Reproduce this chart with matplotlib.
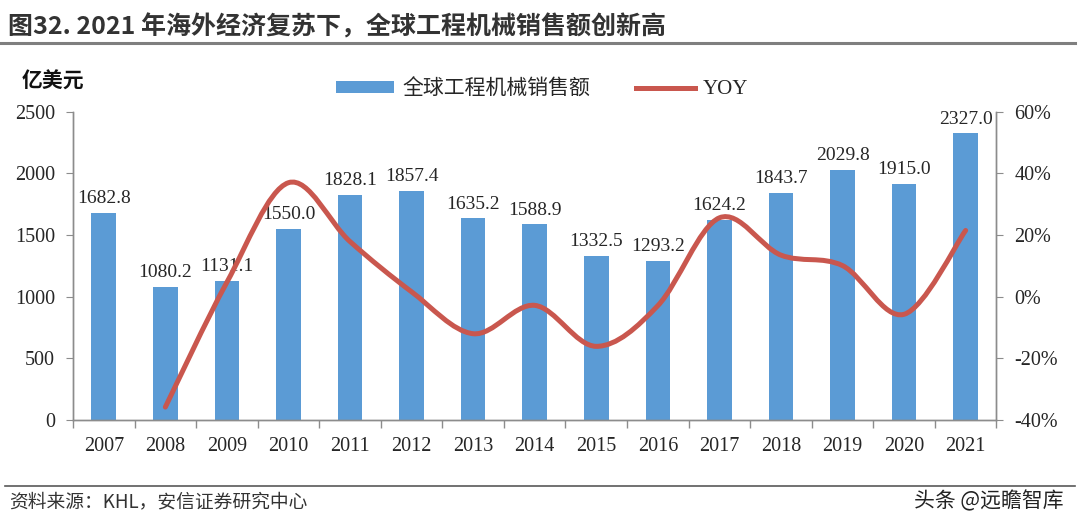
import numpy as np
import matplotlib
matplotlib.use('Agg')
import matplotlib.pyplot as plt
from matplotlib.path import Path
from matplotlib.patches import PathPatch, Patch
from matplotlib.lines import Line2D
from matplotlib.ticker import FixedLocator

plt.rcParams['font.family'] = ['Liberation Serif', 'Noto Sans CJK SC']

# 数据
years = ['2007', '2008', '2009', '2010', '2011', '2012', '2013', '2014',
         '2015', '2016', '2017', '2018', '2019', '2020', '2021']
sales = [1682.8, 1080.2, 1131.1, 1550.0, 1828.1, 1857.4, 1635.2, 1588.9,
         1332.5, 1293.2, 1624.2, 1843.7, 2029.8, 1915.0, 2327.0]
yoy_years = years[1:]
yoy = [-35.8, 4.7, 37.0, 17.9, 1.6, -12.0, -2.8, -16.1, -2.9, 25.6, 13.5, 10.1, -5.7, 21.5]
pct_ticks = [-40, -20, 0, 20, 40, 60]
pct_labels = ['-40%', '-20%', '0%', '20%', '40%', '60%']

bar_color = '#5B9BD5'
line_color = '#C9574E'
axis_color = '#8C8C8C'
text_color = '#262626'

fig = plt.figure(figsize=(10.8, 5.25), dpi=100)
ax = fig.add_axes([0.0676, 0.2, 0.855, 0.587])
ax2 = ax.twinx()

x = np.arange(len(years))
ax.bar(x, sales, width=0.4, color=bar_color, zorder=2)
for xi, v in zip(x, sales):
    ax.annotate(f'{v:.1f}', (xi, v), xytext=(0, 4), textcoords='offset points',
                ha='center', va='bottom', fontsize=14, color=text_color, zorder=1)

ax.set_xlim(-0.5, len(years) - 0.5)
ax.set_ylim(0, 2500)
ax.set_yticks(np.arange(0, 2501, 500))
ax.set_xticks(x)
ax.set_xticklabels(years)
ax.xaxis.set_minor_locator(FixedLocator(np.arange(-0.5, len(years), 1)))
ax.tick_params(axis='x', which='major', length=0, pad=12, labelsize=14.5, colors=text_color)
ax.tick_params(axis='x', which='minor', length=6, color=axis_color, width=1)
ax.tick_params(axis='y', length=5, color=axis_color, labelsize=14.5, labelcolor=text_color, pad=8)

# 平滑曲线 (Catmull-Rom -> Bezier)
px = np.array([years.index(y) for y in yoy_years], dtype=float)
py = np.array(yoy, dtype=float)
verts = [(px[0], py[0])]
codes = [Path.MOVETO]
n = len(px)
for i in range(n - 1):
    p0 = (px[max(i - 1, 0)], py[max(i - 1, 0)])
    p1 = (px[i], py[i])
    p2 = (px[i + 1], py[i + 1])
    p3 = (px[min(i + 2, n - 1)], py[min(i + 2, n - 1)])
    c1 = (p1[0] + (p2[0] - p0[0]) / 6, p1[1] + (p2[1] - p0[1]) / 6)
    c2 = (p2[0] - (p3[0] - p1[0]) / 6, p2[1] - (p3[1] - p1[1]) / 6)
    verts += [c1, c2, p2]
    codes += [Path.CURVE4] * 3
ax2.add_patch(PathPatch(Path(verts, codes), facecolor='none', edgecolor=line_color,
                        lw=3.6, capstyle='round', joinstyle='round', zorder=3))
ax2.set_ylim(-40, 60)
ax2.set_yticks(pct_ticks)
ax2.set_yticklabels(pct_labels, family='Liberation Serif')
ax2.tick_params(axis='y', length=5, color=axis_color, labelsize=14.5, labelcolor=text_color, pad=8)

for a in (ax, ax2):
    a.spines['top'].set_visible(False)
    for s in ('left', 'right', 'bottom'):
        a.spines[s].set_color(axis_color)
        a.spines[s].set_linewidth(1)

# 图例
handles = [Patch(facecolor=bar_color, label='全球工程机械销售额'),
           Line2D([], [], color=line_color, lw=3.6, label='YOY')]
fig.legend(handles=handles, loc='center', bbox_to_anchor=(0.502, 0.83), ncol=2,
           frameon=False, fontsize=15, handlelength=2.8, handleheight=0.5,
           columnspacing=2.2, handletextpad=0.4, labelcolor=text_color)

# 标题与注释
fig.text(0.007, 0.935, '图32. 2021 年海外经济复苏下，全球工程机械销售额创新高',
         fontsize=18, fontweight='bold', color='#333333', family='Noto Sans CJK SC',
         va='baseline')
fig.add_artist(Line2D([0, 0.995], [0.918, 0.918], color='#7F7F7F', lw=2.2))
fig.text(0.02, 0.845, '亿美元', fontsize=15, fontweight='bold', color='#111111',
         family='Noto Sans CJK SC', va='center')
fig.add_artist(Line2D([0.005, 0.995], [0.075, 0.075], color='#595959', lw=1.2))
fig.text(0.008, 0.045, '资料来源：KHL，安信证券研究中心', fontsize=13.5, style='italic',
         color='#333333', family='Noto Sans CJK SC', va='center')
fig.text(0.985, 0.045, '头条 @远瞻智库', fontsize=15, color='#222222',
         family='Noto Sans CJK SC', ha='right', va='center')

fig.savefig('out.png', dpi=100)
